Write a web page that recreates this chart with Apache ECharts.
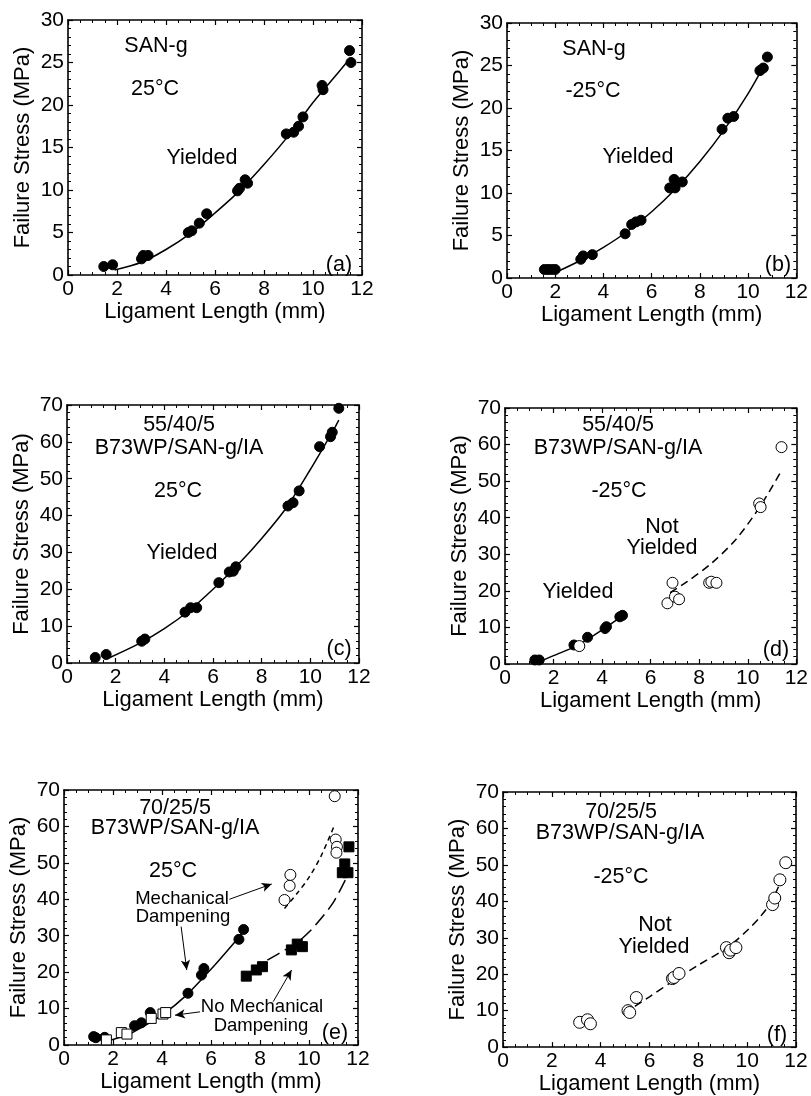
<!DOCTYPE html>
<html>
<head>
<meta charset="utf-8">
<script src="https://cdn.jsdelivr.net/npm/echarts@6/dist/echarts.min.js"></script>
<style>
  html, body { margin: 0; padding: 0; background: #fff; }
  #chart { width: 811px; height: 1096px; }
</style>
</head>
<body>
<div id="chart"></div>
<script>
// ---------- data: ligament length (mm) vs failure stress (MPa) ----------
// (a) SAN-g, 25 °C
const aYielded = [[1.46,1.0],[1.82,1.2],[3.0,1.9],[3.07,2.3],[3.27,2.3],[4.91,5.0],[5.05,5.2],[5.36,6.1],[5.66,7.2],
  [6.92,9.9],[7.0,10.2],[7.23,11.2],[7.33,10.8],[8.91,16.6],[9.21,16.8],[9.41,17.5],[9.59,18.6],[10.37,22.3],[10.41,21.8],
  [11.49,26.4],[11.55,25.0]];
const aFit = [[1.9,0.6],[3,1.5],[4,3.0],[5,4.9],[6,7.3],[7,9.9],[8,13.0],[9,16.4],[10,20.3],[11,23.7],[11.43,25.2]];

// (b) SAN-g, -25 °C
const bYielded = [[1.55,1.0],[1.7,1.0],[1.85,1.0],[2.0,1.0],[3.06,2.2],[3.16,2.6],[3.54,2.75],[4.9,5.2],[5.17,6.3],
  [5.35,6.6],[5.56,6.8],[6.75,10.6],[6.93,11.6],[6.97,10.6],[7.27,11.3],[8.92,17.5],[9.16,18.8],[9.4,19.0],
  [10.49,24.4],[10.63,24.7],[10.8,26.0]];
const bFit = [[2.05,0.7],[3,2.0],[4,3.6],[5,5.5],[6,7.8],[7,10.5],[8,13.7],[9,17.4],[10,21.7],[10.7,25.2]];

// (c) 55/40/5 B73WP/SAN-g/IA, 25 °C
const cYielded = [[1.16,1.5],[1.61,2.3],[3.07,5.9],[3.2,6.5],[4.85,13.8],[5.08,15.0],[5.33,15.0],[6.24,21.8],
  [6.67,24.7],[6.83,24.9],[6.94,26.1],[9.08,42.6],[9.29,43.5],[9.54,46.7],[10.38,58.7],[10.83,61.4],[10.9,62.6],
  [11.17,69.1]];
const cFit = [[1.7,1.3],[3,5.4],[4,9.3],[5,14.1],[6,20.0],[7,26.5],[8,33.8],[9,42.0],[10,52.5],[11,63.8],[11.17,65.9]];

// (d) 55/40/5 B73WP/SAN-g/IA, -25 °C
const dYielded = [[1.23,1.1],[1.41,1.1],[2.84,5.2],[3.4,7.3],[4.12,9.7],[4.18,10.2],[4.73,12.9],[4.84,13.3]];
const dNotYielded = [[3.06,4.9],[6.69,16.6],[6.9,22.2],[7.0,18.4],[7.17,17.7],[8.41,22.2],[8.5,22.5],[8.71,22.2],
  [10.47,43.9],[10.53,42.9],[11.39,59.3]];
const dFitYielded = [[1.55,1.0],[2,2.3],[3,5.1],[4,9.3],[4.85,13.2]];
const dFitNotYielded = [[6.8,19.5],[7.5,22.5],[8.5,27.5],[9.5,34.0],[10.5,43.0],[11.4,53.0]];

// (e) 70/25/5 B73WP/SAN-g/IA, 25 °C
const eDampYielded = [[1.21,2.3],[1.3,2.0],[1.66,2.1],[2.88,5.3],[3.16,6.1],[3.52,8.9],[5.06,14.2],[5.61,19.2],
  [5.71,21.0],[7.14,29.0],[7.33,31.7]];
const eDampBrittle = [[9.0,39.8],[9.21,43.7],[9.24,46.7],[11.05,68.3],[11.09,56.4],[11.14,54.4],[11.12,52.8]];
const eNoDampYielded = [[1.73,1.4],[2.34,3.4],[2.57,3.0],[3.56,7.3],[4.04,8.5],[4.15,8.9]];
const eNoDampBrittle = [[7.44,18.9],[7.85,20.6],[8.1,21.5],[9.28,26.1],[9.52,27.7],[9.73,27.0],[11.36,47.3],
  [11.46,49.7],[11.59,47.3],[11.63,54.4]];
const eFitYielded = [[1.8,1.2],[2.5,2.5],[3,4.2],[4,8.2],[5,13.7],[6,20.8],[7,28.5],[7.3,31.0]];
const eFitDamp = [[9.0,37.5],[9.5,41.5],[10,46.0],[10.5,52.0],[11.0,59.7]];
const eFitNoDamp = [[8.3,23.3],[9,26.0],[9.5,28.0],[10,31.0],[10.5,34.8],[11,39.2],[11.5,45.5]];
// callout arrows in (e): [from, to] in data units
const eArrows = [
  [[6.75,40.0],[8.48,44.2]],
  [[4.78,32.5],[5.01,20.6]],
  [[5.55,9.1],[4.53,8.2]],
  [[8.54,11.9],[9.29,20.6]]
];

// (f) 70/25/5 B73WP/SAN-g/IA, -25 °C
const fNotYielded = [[3.14,6.8],[3.46,7.5],[3.58,6.4],[5.12,10.0],[5.19,9.5],[5.46,13.6],[6.94,18.8],[7.0,19.1],
  [7.21,20.2],[9.15,27.3],[9.26,25.9],[9.32,26.6],[9.54,27.3],[11.04,39.1],[11.13,40.9],[11.34,45.9],[11.58,50.6]];
const fFit = [[5.4,11.2],[6,13.8],[7,18.3],[8,22.5],[9,26.5],[9.5,29.0],[10,32.0],[10.5,35.5],[11,40.0],[11.5,47.5]];

// axis ranges / tick steps
const xRange = [0, 12], xStep = 2;
const yRangeSmall = [0, 30], yStepSmall = 5;
const yRangeLarge = [0, 70], yStepLarge = 10;
const xTitle = 'Ligament Length (mm)';
const yTitle = 'Failure Stress (MPa)';

// ---------- layout ----------
const FONT = '"Liberation Sans", Arial, Helvetica, sans-serif';
const panels = [
  { left: 68,  top: 20,  width: 294, height: 255, y: yRangeSmall, yStep: yStepSmall },
  { left: 507, top: 23,  width: 291, height: 255, y: yRangeSmall, yStep: yStepSmall },
  { left: 67,  top: 405, width: 292, height: 258, y: yRangeLarge, yStep: yStepLarge },
  { left: 505, top: 408, width: 292, height: 256, y: yRangeLarge, yStep: yStepLarge },
  { left: 64,  top: 790, width: 294, height: 255, y: yRangeLarge, yStep: yStepLarge },
  { left: 503, top: 792, width: 293, height: 256, y: yRangeLarge, yStep: yStepLarge }
];

const lineCol = '#000';
const grids = [], xAxes = [], yAxes = [];
panels.forEach((p, i) => {
  grids.push({ left: p.left, top: p.top, width: p.width, height: p.height, containLabel: false });
  const tick = { show: true, inside: true, length: 5, lineStyle: { color: lineCol, width: 1.2 } };
  const minor = (n) => ({ show: true, splitNumber: n, length: 3, lineStyle: { color: lineCol, width: 1 } });
  const line = { show: true, onZero: false, lineStyle: { color: lineCol, width: 1.6 } };
  const label = { color: '#000', fontSize: 21, fontFamily: FONT };
  const nameStyle = { color: '#000', fontSize: 22, fontFamily: FONT };
  xAxes.push({
    gridIndex: i, type: 'value', position: 'bottom', min: xRange[0], max: xRange[1], interval: xStep,
    axisLine: line, axisTick: tick, minorTick: minor(4), splitLine: { show: false },
    axisLabel: Object.assign({ margin: 4 }, label),
    name: xTitle, nameLocation: 'middle', nameGap: 22, nameTextStyle: nameStyle
  });
  xAxes.push({
    gridIndex: i, type: 'value', position: 'top', min: xRange[0], max: xRange[1], interval: xStep,
    axisLine: line, axisTick: tick, minorTick: minor(4), splitLine: { show: false },
    axisLabel: { show: false }
  });
  yAxes.push({
    gridIndex: i, type: 'value', position: 'left', min: p.y[0], max: p.y[1], interval: p.yStep,
    axisLine: line, axisTick: tick, minorTick: minor(5), splitLine: { show: false },
    axisLabel: Object.assign({ margin: 4 }, label),
    name: yTitle, nameLocation: 'middle', nameRotate: 90, nameGap: 34, nameTextStyle: nameStyle
  });
  yAxes.push({
    gridIndex: i, type: 'value', position: 'right', min: p.y[0], max: p.y[1], interval: p.yStep,
    axisLine: line, axisTick: tick, minorTick: minor(5), splitLine: { show: false },
    axisLabel: { show: false }
  });
});

// series helpers
function dots(i, data, opts) {
  return Object.assign({
    type: 'scatter', xAxisIndex: 2 * i, yAxisIndex: 2 * i, data: data, z: 5,
    symbol: 'circle', symbolSize: 10,
    itemStyle: { color: '#000', borderColor: '#000', borderWidth: 1, opacity: 1 }
  }, opts || {});
}
function openDots(i, data, size) {
  return dots(i, data, { symbolSize: size || 11, itemStyle: { color: '#fff', borderColor: '#000', borderWidth: 1, opacity: 1 } });
}
function curve(i, data, dash) {
  return {
    type: 'line', xAxisIndex: 2 * i, yAxisIndex: 2 * i, data: data, z: 3,
    smooth: 0.3, showSymbol: false, symbol: 'none',
    lineStyle: { color: '#000', width: 1.5, type: dash || 'solid' }
  };
}

const series = [
  curve(0, aFit), dots(0, aYielded),
  curve(1, bFit), dots(1, bYielded),
  curve(2, cFit), dots(2, cYielded),
  curve(3, dFitYielded), curve(3, dFitNotYielded, [8, 5]), dots(3, dYielded), openDots(3, dNotYielded),
  Object.assign(curve(4, eFitYielded), {
    markLine: {
      silent: true, animation: false, symbol: ['none', 'arrow'], symbolSize: [7, 10],
      label: { show: false },
      lineStyle: { color: '#000', width: 1, type: 'solid' },
      data: eArrows.map(a => [{ coord: a[0] }, { coord: a[1] }])
    }
  }),
  curve(4, eFitDamp, [5, 4]), curve(4, eFitNoDamp, [14, 6]),
  dots(4, eDampYielded),
  openDots(4, eDampBrittle),
  dots(4, eNoDampBrittle, { symbol: 'rect', symbolSize: 10 }),
  dots(4, eNoDampYielded, { symbol: 'rect', symbolSize: 10, itemStyle: { color: '#fff', borderColor: '#000', borderWidth: 1, opacity: 1 } }),
  curve(5, fFit, [8, 5]), openDots(5, fNotYielded, 12)
];

// in-plot annotations [text, x, y, size]
const notes = [
  ['SAN-g', 156, 46], ['25°C', 155, 89], ['Yielded', 202, 158], ['(a)', 339, 265],
  ['SAN-g', 594, 49], ['-25°C', 593, 91], ['Yielded', 638, 157], ['(b)', 778, 265],
  ['55/40/5', 179, 425], ['B73WP/SAN-g/IA', 179, 448], ['25°C', 178, 491], ['Yielded', 182, 553], ['(c)', 339, 649],
  ['55/40/5', 618, 425], ['B73WP/SAN-g/IA', 618, 448], ['-25°C', 619, 491], ['Not', 662, 527], ['Yielded', 662, 548],
  ['Yielded', 578, 592], ['(d)', 776, 650],
  ['70/25/5', 175, 808], ['B73WP/SAN-g/IA', 175, 828], ['25°C', 173, 871], ['(e)', 335, 1033],
  ['Mechanical', 182, 899, 18.5], ['Dampening', 183, 917, 18.5],
  ['No Mechanical', 262, 1007, 18.5], ['Dampening', 261, 1026, 18.5],
  ['70/25/5', 621, 812], ['B73WP/SAN-g/IA', 620, 833], ['-25°C', 621, 877], ['Not', 655, 925], ['Yielded', 654, 947],
  ['(f)', 777, 1035]
];

const graphic = notes.map(n => ({
  type: 'text', x: n[1], y: n[2], z: 10, silent: true,
  style: {
    text: n[0], fill: '#000', font: (n[3] || 21.5) + 'px ' + FONT,
    align: 'center', verticalAlign: 'middle'
  }
}));

const chart = echarts.init(document.getElementById('chart'), null, { renderer: 'canvas' });
chart.setOption({
  backgroundColor: '#fff',
  animation: false,
  grid: grids,
  xAxis: xAxes,
  yAxis: yAxes,
  series: series,
  graphic: graphic
});
</script>
</body>
</html>
